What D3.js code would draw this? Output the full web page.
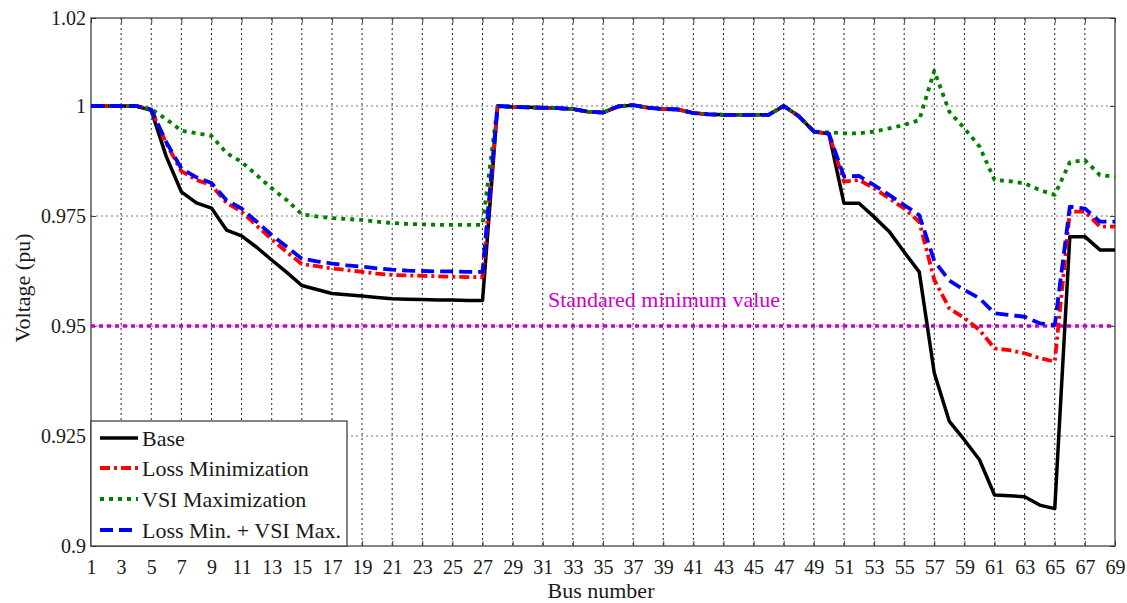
<!DOCTYPE html>
<html><head><meta charset="utf-8">
<script src="https://cdn.jsdelivr.net/npm/d3@7"></script>
<style>body{margin:0;background:#fff}svg{display:block}</style>
</head><body><svg id="c" width="1127" height="603"></svg>
<script>
const buses = d3.range(1, 70);
const base = [1.0,1.0,1.0,1.0,0.9990,0.9885,0.9805,0.9780,0.9768,0.9718,0.9705,0.9679,0.9650,0.9622,0.9592,0.9583,0.9574,0.9571,0.9568,0.9565,0.9562,0.9561,0.9560,0.9559,0.9559,0.9558,0.9558,
1.0,0.9998,0.9997,0.9996,0.9995,0.9993,0.9987,0.9985,0.9999,1.0002,0.9996,0.9993,0.9992,0.9984,0.9981,0.9980,0.9980,0.9980,0.9980,1.0,0.9977,0.9942,0.9937,
0.9779,0.9779,0.9748,0.9715,0.9668,0.9623,0.9393,0.9283,0.9241,0.9196,0.9116,0.9114,0.9112,0.9093,0.9085,0.9703,0.9703,0.9673,0.9673];
const lossMin = [1.0,1.0,1.0,1.0,0.9991,0.9915,0.9852,0.9832,0.9820,0.9780,0.9760,0.9728,0.9697,0.9668,0.9641,0.9636,0.9631,0.9627,0.9623,0.9619,0.9616,0.9615,0.9614,0.9613,0.9612,0.9611,0.9611,
1.0,0.9998,0.9997,0.9996,0.9995,0.9993,0.9987,0.9985,0.9999,1.0002,0.9996,0.9993,0.9992,0.9984,0.9981,0.9980,0.9980,0.9980,0.9980,1.0,0.9977,0.9942,0.9937,
0.9828,0.9832,0.9813,0.9790,0.9767,0.9737,0.9605,0.9540,0.9518,0.9491,0.9449,0.9445,0.9438,0.9427,0.9419,0.9760,0.9760,0.9726,0.9726];
const vsiMax = [1.0,1.0,1.0,1.0,0.9993,0.9970,0.9944,0.9938,0.9932,0.9893,0.9873,0.9843,0.9813,0.9786,0.9754,0.9749,0.9745,0.9743,0.9741,0.9737,0.9734,0.9732,0.9731,0.9730,0.9730,0.9730,0.9730,
1.0,0.9998,0.9997,0.9996,0.9995,0.9993,0.9987,0.9985,0.9999,1.0002,0.9996,0.9993,0.9992,0.9984,0.9981,0.9980,0.9980,0.9980,0.9980,1.0,0.9977,0.9942,0.9940,
0.9938,0.9938,0.9942,0.9949,0.9957,0.9968,1.0080,0.9987,0.9949,0.9908,0.9832,0.9829,0.9824,0.9809,0.9798,0.9872,0.9877,0.9843,0.9839];
const lossVsi = [1.0,1.0,1.0,1.0,0.9992,0.9918,0.9858,0.9838,0.9825,0.9786,0.9767,0.9737,0.9707,0.9680,0.9653,0.9647,0.9642,0.9638,0.9635,0.9631,0.9628,0.9626,0.9625,0.9624,0.9624,0.9623,0.9623,
1.0,0.9998,0.9997,0.9996,0.9995,0.9993,0.9987,0.9985,0.9999,1.0002,0.9996,0.9993,0.9992,0.9984,0.9981,0.9980,0.9980,0.9980,0.9980,1.0,0.9977,0.9942,0.9937,
0.9840,0.9841,0.9820,0.9798,0.9775,0.9752,0.9648,0.9603,0.9582,0.9563,0.9529,0.9525,0.9521,0.9506,0.9502,0.9771,0.9767,0.9737,0.9737];
const standardMin = 0.95;
const xTicks = d3.range(1, 70, 2);
const yTicks = [0.9, 0.925, 0.95, 0.975, 1.0, 1.02];
const yTickLabels = ["0.9","0.925","0.95","0.975","1","1.02"];
const seriesNames = ["Base","Loss Minimization","VSI Maximization","Loss Min. + VSI Max."];

const FONT = "'Liberation Serif', 'Times New Roman', serif";
const TXT = "#1a1a1a";
const L = 91, T = 18, W = 1024, H = 528;
const svg = d3.select("#c");
const x = d3.scaleLinear().domain([1, 69]).range([L, L + W]);
const y = d3.scaleLinear().domain([0.9, 1.02]).range([T + H, T]);

// grid
const g = svg.append("g");
g.selectAll("line.vg").data(xTicks.slice(1, -1)).join("line")
  .attr("x1", d => x(d)).attr("x2", d => x(d)).attr("y1", T).attr("y2", T + H)
  .attr("stroke", "#222").attr("stroke-width", 1).attr("stroke-dasharray", "2,3");
g.selectAll("line.hg").data([0.925, 0.95, 0.975, 1.0]).join("line")
  .attr("x1", L).attr("x2", L + W).attr("y1", d => y(d)).attr("y2", d => y(d))
  .attr("stroke", "#777").attr("stroke-width", 1.2).attr("stroke-dasharray", "2,3");

// axes
const fmt = d => yTickLabels[yTicks.indexOf(d)];
const ax = (gen, tx, ty) => {
  const a = svg.append("g").attr("transform", `translate(${tx},${ty})`).call(gen);
  a.select(".domain").remove();
  a.selectAll("line").attr("stroke", "#444");
  a.selectAll("text").style("font-family", FONT).style("font-size", "20px").attr("fill", TXT);
  return a;
};
ax(d3.axisBottom(x).tickValues(xTicks).tickSize(-5).tickPadding(14), 0, T + H);
ax(d3.axisTop(x).tickValues(xTicks).tickSize(-5).tickFormat(""), 0, T);
ax(d3.axisLeft(y).tickValues(yTicks).tickSize(-5).tickPadding(5).tickFormat(fmt), L, 0);
ax(d3.axisRight(y).tickValues(yTicks).tickSize(-5).tickFormat(""), L + W, 0);

svg.append("rect").attr("x", L).attr("y", T).attr("width", W).attr("height", H)
  .attr("fill", "none").attr("stroke", "#333").attr("stroke-width", 1.2);

// standard min
svg.append("line").attr("x1", x(1)).attr("x2", x(69)).attr("y1", y(standardMin)).attr("y2", y(standardMin))
  .attr("stroke", "#cc00cc").attr("stroke-width", 3.5).attr("stroke-dasharray", "4,4");
svg.append("text").attr("x", 664).attr("y", 307).attr("text-anchor", "middle")
  .style("font-family", FONT).style("font-size", "22px").attr("fill", "#cc00cc").text("Standared minimum value");

const styles = [
  {data: base, color: "#000", w: 3.5, dash: null},
  {data: lossMin, color: "#ff0000", w: 3.8, dash: "10,4,3,4"},
  {data: vsiMax, color: "#008000", w: 3.8, dash: "4,5"},
  {data: lossVsi, color: "#0000ff", w: 3.8, dash: "13,6"}
];
const line = d3.line().x((d, i) => x(buses[i])).y(d => y(d));
styles.forEach(s => {
  svg.append("path").datum(s.data).attr("d", line).attr("fill", "none")
    .attr("stroke", s.color).attr("stroke-width", s.w)
    .attr("stroke-dasharray", s.dash).attr("stroke-linejoin", "round");
});

// legend
const lg = svg.append("g");
lg.append("rect").attr("x", L).attr("y", 421).attr("width", 256).attr("height", T + H - 421)
  .attr("fill", "#fff").attr("stroke", "#333").attr("stroke-width", 1.2);
const ly = [438, 468, 499, 530];
styles.forEach((s, i) => {
  lg.append("line").attr("x1", 100).attr("x2", 138).attr("y1", ly[i]).attr("y2", ly[i])
    .attr("stroke", s.color).attr("stroke-width", s.w).attr("stroke-dasharray", s.dash);
  lg.append("text").attr("x", 142).attr("y", ly[i] + 8)
    .style("font-family", FONT).style("font-size", "22px").attr("fill", TXT)
    .text(seriesNames[i]);
});

// axis titles
svg.append("text").attr("x", 601).attr("y", 598).attr("text-anchor", "middle")
  .style("font-family", FONT).style("font-size", "22px").attr("fill", TXT).text("Bus number");
svg.append("text").attr("transform", `translate(30,${288}) rotate(-90)`)
  .attr("text-anchor", "middle")
  .style("font-family", FONT).style("font-size", "22px").attr("fill", TXT).text("Voltage (pu)");
</script></body></html>
